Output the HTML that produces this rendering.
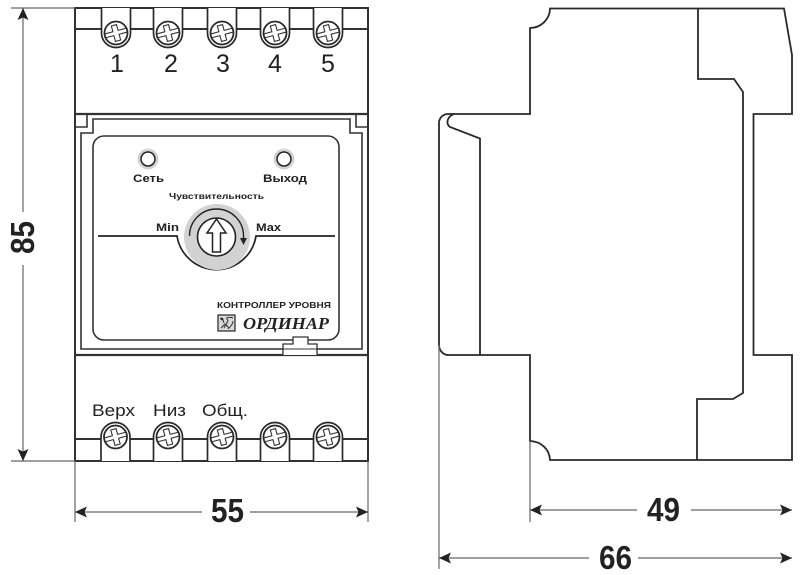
<!DOCTYPE html>
<html><head><meta charset="utf-8">
<style>
html,body{margin:0;padding:0;background:#fff;width:800px;height:575px;overflow:hidden}
svg{display:block;filter:blur(.35px)}
text{font-family:"Liberation Sans",sans-serif;fill:#222}
</style></head><body>
<svg width="800" height="575" viewBox="0 0 800 575" xmlns="http://www.w3.org/2000/svg">
<defs>
<g id="screw">
<circle r="11.500" fill="#fff" stroke="#2a2a2a" stroke-width="1.800"/>
<g transform="rotate(-15)">
<path d="M-11 -2H-2.700V-8H2.700V-2H11M-11 2H-2.700V8H2.700V2H11" fill="none" stroke="#333" stroke-width="1.100"/>
</g>
</g>
<g id="ut"><path d="M-14.500 8V33A14.500 14.500 0 0 0 14.500 33V8" fill="#fff" stroke="#2a2a2a" stroke-width="1.700"/><use href="#screw" y="33"/></g>
<g id="ub"><path d="M-14.500 461V437A14.500 14.500 0 0 1 14.500 437V461" fill="#fff" stroke="#2a2a2a" stroke-width="1.700"/><use href="#screw" y="437"/></g>
<path id="al" d="M0 0L12 -5.500L9.500 0L12 5.500Z" fill="#222"/>
</defs>
<rect width="800" height="575" fill="#fff"/>

<!-- Front body -->
<g fill="none" stroke="#333" stroke-width="2">
<rect x="75" y="8" width="293" height="453"/>
<path d="M75 29H368M75 439H368"/>
<path d="M75 114H368" stroke-width="2.200"/>
<path d="M75 127H87V114M368 127H356V114" stroke-width="1.600"/>
<path d="M81 349V133H93V119H350V133H362V349Z" stroke-width="1.600"/>
<path d="M75 355H368" stroke-width="2.200"/>
<rect x="93" y="136" width="246" height="204" rx="11" stroke-width="1.600"/>
<path d="M283 355V344H293V337H308V344H317V355" fill="#fff" stroke-width="1.300"/>
<path d="M283 349H317" stroke-width="1.100"/>
</g>
<use href="#ut" x="116"/><use href="#ut" x="168"/><use href="#ut" x="222"/><use href="#ut" x="275"/><use href="#ut" x="328"/>
<use href="#ub" x="115.500"/><use href="#ub" x="168"/><use href="#ub" x="222"/><use href="#ub" x="275"/><use href="#ub" x="328"/>
<g font-size="25" text-anchor="middle">
<text x="117" y="72">1</text><text x="171" y="72">2</text><text x="223" y="72">3</text><text x="275" y="72">4</text><text x="328" y="72">5</text>
</g>
<g font-size="17">
<text x="92" y="416" textLength="43" lengthAdjust="spacingAndGlyphs">Верх</text>
<text x="153" y="416" textLength="33" lengthAdjust="spacingAndGlyphs">Низ</text>
<text x="202" y="416" textLength="46" lengthAdjust="spacingAndGlyphs">Общ.</text>
</g>

<!-- Panel -->
<circle cx="148" cy="159" r="10.500" fill="#d4d4d4"/><circle cx="148" cy="159" r="7" fill="#fff" stroke="#222" stroke-width="1.500"/>
<circle cx="284" cy="159" r="10.500" fill="#d4d4d4"/><circle cx="284" cy="159" r="7" fill="#fff" stroke="#222" stroke-width="1.500"/>
<g font-weight="bold">
<text x="133" y="182" font-size="11" textLength="31" lengthAdjust="spacingAndGlyphs">Сеть</text>
<text x="263" y="182" font-size="11" textLength="44" lengthAdjust="spacingAndGlyphs">Выход</text>
<text x="169" y="199" font-size="8" textLength="95" lengthAdjust="spacingAndGlyphs">Чувствительность</text>
<text x="156" y="231" font-size="11" textLength="23" lengthAdjust="spacingAndGlyphs">Min</text>
<text x="256" y="231" font-size="11" textLength="25" lengthAdjust="spacingAndGlyphs">Max</text>
<text x="217" y="308" font-size="8.500" textLength="114" lengthAdjust="spacingAndGlyphs">КОНТРОЛЛЕР УРОВНЯ</text>
</g>
<text x="243" y="329" font-size="17" font-weight="bold" font-style="italic" textLength="86" lengthAdjust="spacingAndGlyphs" style="font-family:'Liberation Serif',serif">ОРДИНАР</text>
<rect x="218" y="315" width="17" height="16" fill="#d8d8d8" stroke="#333" stroke-width="1.300"/>
<path d="M220 318l3 2 1 3M224 328c3-6 5-7 3-9s4-2 6-1M221 328l4-4 4 4M228 329c3-3 5-5 5-8" fill="none" stroke="#333" stroke-width="1"/>
<circle cx="222" cy="319" r="1.300" fill="#222"/>

<path d="M98 236H177A40 40 0 0 0 256 236H335" fill="none" stroke="#222" stroke-width="1.700"/>
<circle cx="217" cy="237" r="33" fill="#d2d2d2"/>
<circle cx="216.500" cy="237" r="19" fill="#fff" stroke="#222" stroke-width="1.600"/>
<path d="M189.500 236A27 27 0 0 1 243.500 236V239" fill="none" stroke="#222" stroke-width="1.400"/>
<path d="M240 238H247L243.500 245Z" fill="#222"/>
<path d="M216.500 219L226 233H220.500V252H212.500V233H207Z" fill="#fff" stroke="#222" stroke-width="1.500"/>

<!-- Side view -->
<g fill="none" stroke="#2a2a2a" stroke-width="1.800">
<path d="M550 8.500H784L792 55V114H753.500V355H792V460H550C549.500 449 541 441.500 530 441V355H448C443 355 439 350 439 345V123C439 118 443 114 448 114H530V28C541 28 550 19 550 8.500Z"/>
<path d="M698 8.500V79H734L743 92V393L733 399H697V460"/>
<path d="M454 114C448 116 445 123 450 127L480 138.500V355"/>
</g>

<!-- Dimensions -->
<g stroke="#666" stroke-width="1.200" fill="none">
<path d="M11 8H75M11 461H75"/>
<path d="M23 8V212M23 265V461"/>
<path d="M75 461V522M368 461V522"/>
<path d="M75 512H202M250 512H368"/>
<path d="M439 345V569M530 441V522"/>
<path d="M530 510H637M691 510H792"/>
<path d="M439 558H589M638 558H792"/>
</g>
<use href="#al" transform="translate(23,8) rotate(90)"/>
<use href="#al" transform="translate(23,461) rotate(-90)"/>
<use href="#al" transform="translate(75,512)"/>
<use href="#al" transform="translate(368,512) rotate(180)"/>
<use href="#al" transform="translate(530,510)"/>
<use href="#al" transform="translate(792,510) rotate(180)"/>
<use href="#al" transform="translate(439,558)"/>
<use href="#al" transform="translate(792,558) rotate(180)"/>
<g font-size="33" font-weight="bold">
<text x="211" y="522" textLength="33" lengthAdjust="spacingAndGlyphs">55</text>
<text x="647" y="521" textLength="33" lengthAdjust="spacingAndGlyphs">49</text>
<text x="599" y="569" textLength="33" lengthAdjust="spacingAndGlyphs">66</text>
<text transform="translate(34,254) rotate(-90)" textLength="33" lengthAdjust="spacingAndGlyphs">85</text>
</g>
</svg>
</body></html>
